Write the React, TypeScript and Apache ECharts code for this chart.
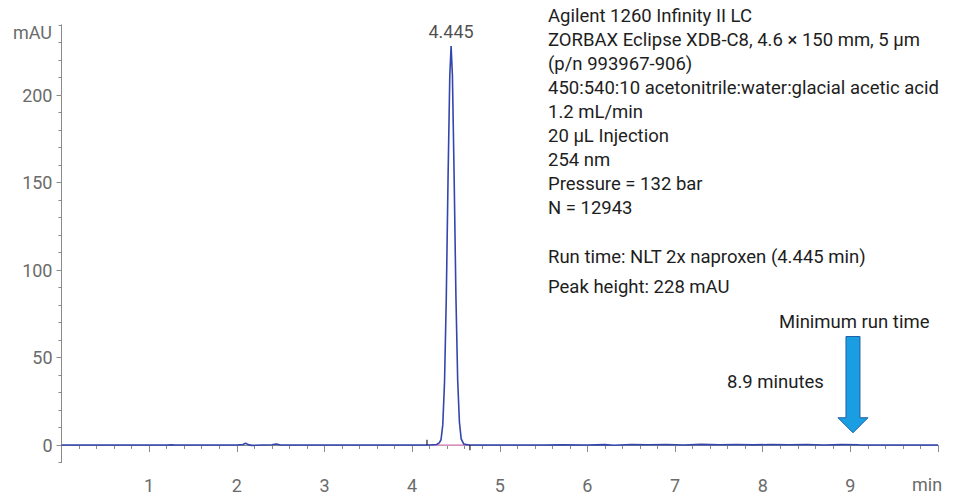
import React, { useEffect, useRef } from "react";
import * as echarts from "echarts";

// Chromatogram trace (retention time in min, absorbance in mAU)
const times = [0, 1.2, 1.25, 1.3, 2.0, 2.07, 2.1, 2.13, 2.17, 2.3, 2.4, 2.45, 2.5, 2.7, 3.0, 4.0, 4.2, 4.28, 4.31, 4.33, 4.35, 4.37, 4.39, 4.41, 4.43, 4.445, 4.46, 4.48, 4.5, 4.52, 4.54, 4.56, 4.59, 4.65, 5.5, 5.7, 6.0, 6.2, 6.3, 6.5, 6.7, 6.9, 7.1, 7.3, 7.5, 7.7, 7.9, 8.1, 8.3, 8.5, 8.7, 8.9, 9.1, 9.4, 10];
const absorbance = [0, 0, 0.15, 0, 0, 0.3, 1.0, 0.2, -0.2, 0, 0.1, 0.6, 0, 0, 0, 0, 0, 0.3, 1.2, 3, 11.5, 36, 84, 152, 211, 228, 211, 152, 85, 37, 13, 3.5, 0.5, 0, 0, 0.1, 0, 0.2, -0.1, 0.3, 0.1, 0.3, 0, 0.35, 0.1, 0.3, 0.05, 0.3, 0.1, 0.25, 0, 0.2, 0.1, 0, 0];

const peakTime = 4.445;
const peakHeight = 228;
const peakLabel = "4.445";

// Integration baseline (start, end)
const integStart = 4.17;
const integEnd = 4.66;

// Minimum run time arrow: x, top (mAU), tip (mAU)
const arrowData = [[9.03, 62, 7]];

const yTickLabels = [0, 50, 100, 150, 200];
const xTickLabels = [1, 2, 3, 4, 5, 6, 7, 8, 9];

const infoLines = [
  "Agilent 1260 Infinity II LC",
  "ZORBAX Eclipse XDB-C8, 4.6 × 150 mm, 5 µm",
  "(p/n 993967-906)",
  "450:540:10 acetonitrile:water:glacial acetic acid",
  "1.2 mL/min",
  "20 µL Injection",
  "254 nm",
  "Pressure = 132 bar",
  "N = 12943",
];
const runTimeLine = "Run time: NLT 2x naproxen (4.445 min)";
const peakHeightLine = "Peak height: 228 mAU";

const FONT = "Roboto, 'Noto Sans', sans-serif";
const AXIS_COLOR = "#8a8a8a";
const LABEL_COLOR = "#6b6b6b";
const TEXT_COLOR = "#1e1e1e";
const TRACE_COLOR = "#3246ad";
const INFO_FONT = `18.5px ${FONT}`;

export default function App() {
  const ref = useRef<HTMLDivElement>(null);
  useEffect(() => {
    if (!ref.current) return;
    const chart = echarts.init(ref.current, undefined, { renderer: "svg" });
    const trace = times.map((t, i) => [t, absorbance[i]]);

    const axisLine = { show: true, lineStyle: { color: AXIS_COLOR, width: 1 } };

    const infoTexts: any[] = infoLines.map((s, i) => ({
      type: "text",
      left: 548,
      top: 6 + i * 24,
      style: { text: s, font: INFO_FONT, fill: TEXT_COLOR },
    }));
    infoTexts.push({
      type: "text",
      left: 548,
      top: 247,
      style: { text: runTimeLine, font: INFO_FONT, fill: TEXT_COLOR },
    });
    infoTexts.push({
      type: "text",
      left: 548,
      top: 277,
      style: { text: peakHeightLine, font: INFO_FONT, fill: TEXT_COLOR },
    });

    chart.setOption({
      animation: false,
      textStyle: { fontFamily: FONT },
      grid: { left: 61.5, right: 20, top: 25, bottom: 34.5, containLabel: false },
      xAxis: [
        {
          type: "value",
          min: 0,
          max: 10,
          offset: 2.5,
          position: "bottom",
          axisLine,
          splitLine: { show: false },
          axisTick: { show: true, length: 7, customValues: [...xTickLabels, 10], lineStyle: { color: AXIS_COLOR } },
          axisLabel: { show: true, customValues: xTickLabels, margin: 11, fontSize: 18, color: LABEL_COLOR, fontFamily: FONT },
        },
        {
          type: "value",
          min: 0,
          max: 10,
          interval: 0.2,
          offset: 2.5,
          position: "bottom",
          axisLine,
          splitLine: { show: false },
          axisTick: { show: true, length: 4, lineStyle: { color: AXIS_COLOR } },
          axisLabel: { show: false },
        },
      ],
      yAxis: [
        {
          type: "value",
          min: -10,
          max: 240,
          position: "left",
          axisLine,
          splitLine: { show: false },
          axisTick: { show: true, length: 5, customValues: yTickLabels, lineStyle: { color: AXIS_COLOR } },
          axisLabel: { show: true, customValues: yTickLabels, margin: 9, fontSize: 18, color: LABEL_COLOR, fontFamily: FONT },
        },
        {
          type: "value",
          min: -10,
          max: 240,
          interval: 10,
          position: "left",
          axisLine,
          splitLine: { show: false },
          axisTick: { show: true, length: 3, lineStyle: { color: AXIS_COLOR } },
          axisLabel: { show: false },
        },
      ],
      graphic: [
        {
          type: "text",
          right: 958 - 52,
          top: 23,
          style: { text: "mAU", font: `18px ${FONT}`, fill: LABEL_COLOR, textAlign: "right" },
        },
        {
          type: "text",
          left: 912,
          top: 475,
          style: { text: "min", font: `18px ${FONT}`, fill: LABEL_COLOR },
        },
        {
          type: "text",
          left: 779,
          top: 312,
          style: { text: "Minimum run time", font: INFO_FONT, fill: TEXT_COLOR },
        },
        {
          type: "text",
          left: 727,
          top: 372,
          style: { text: "8.9 minutes", font: INFO_FONT, fill: TEXT_COLOR },
        },
        ...infoTexts,
      ],
      series: [
        {
          type: "line",
          name: "integration baseline",
          data: [[integStart, 0], [integEnd, 0]],
          symbol: "none",
          lineStyle: { color: "#e79ac8", width: 1.5 },
          z: 1,
        },
        {
          type: "line",
          name: "start marker",
          data: [[integStart, 0], [integStart, 3]],
          symbol: "none",
          lineStyle: { color: "#222", width: 1.2 },
          z: 3,
        },
        {
          type: "line",
          name: "end marker",
          data: [[integEnd, 0], [integEnd, -3]],
          symbol: "none",
          lineStyle: { color: "#222", width: 1.2 },
          z: 3,
        },
        {
          type: "line",
          name: "trace",
          data: trace,
          symbol: "none",
          lineStyle: { color: TRACE_COLOR, width: 1.6 },
          z: 2,
        },
        {
          type: "scatter",
          data: [[peakTime, peakHeight]],
          symbolSize: 1,
          itemStyle: { color: "rgba(0,0,0,0)" },
          label: {
            show: true,
            position: "top",
            distance: 5,
            formatter: peakLabel,
            fontSize: 18,
            color: TEXT_COLOR,
            fontFamily: FONT,
          },
          z: 4,
        },
        {
          type: "custom",
          data: arrowData,
          clip: false,
          z: 5,
          renderItem: (params: any, api: any) => {
            const x = api.value(0);
            const top = api.coord([x, api.value(1)]);
            const tip = api.coord([x, api.value(2)]);
            const cx = tip[0];
            const headBase = tip[1] - 15;
            const sw = 7;
            const hw = 15;
            return {
              type: "polygon",
              shape: {
                points: [
                  [cx - sw, top[1]],
                  [cx + sw, top[1]],
                  [cx + sw, headBase],
                  [cx + hw, headBase],
                  [cx, tip[1]],
                  [cx - hw, headBase],
                  [cx - sw, headBase],
                ],
              },
              style: { fill: "#1b9de2", stroke: "#2062a8", lineWidth: 1 },
            };
          },
        },
      ],
    });
    return () => chart.dispose();
  }, []);
  return <div ref={ref} style={{ width: 958, height: 497, position: "absolute", left: 0, top: 0 }} />;
}
